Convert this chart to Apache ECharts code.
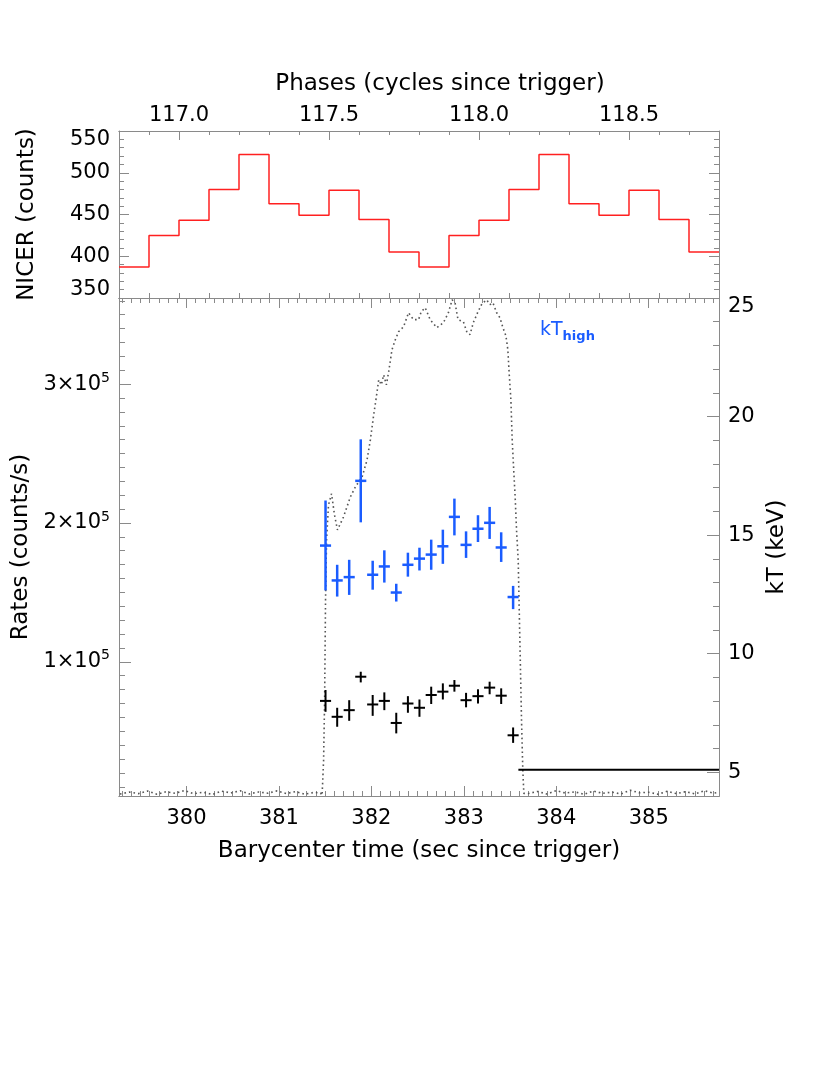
<!DOCTYPE html>
<html><head><meta charset="utf-8">
<script src="https://cdn.jsdelivr.net/npm/echarts@6/dist/echarts.min.js"></script>
<style>html,body{margin:0;padding:0;background:#fff}#c{width:830px;height:1075px}</style>
</head><body><div id="c"></div>
<script>
// ---- data ----
const phaseBins = [116.8,116.9,117.0,117.1,117.2,117.3,117.4,117.5,117.6,117.7,117.8,117.9,118.0,118.1,118.2,118.3,118.4,118.5,118.6,118.7];
const nicerCounts = [387,425,443,480,522,463,449,479,444,405,387,425,443,480,522,463,449,479,444,405];
const phaseTicks = [117.0,117.5,118.0,118.5];
const timeTicks = [380,381,382,383,384,385];
const rateTicks = [100000,200000,300000];
const kTTicks = [5,10,15,20,25];

const lcTime = [379.28,379.38,379.48,379.58,379.68,379.78,379.88,379.98,380.08,380.18,380.28,380.38,380.48,380.58,380.68,380.78,380.88,380.98,381.08,381.18,381.28,381.38,381.45,
381.467,381.483,381.494,381.504,381.515,381.536,381.569,381.601,381.633,381.698,381.773,381.827,381.900,381.953,381.989,382.025,382.054,382.079,382.108,382.133,382.162,382.187,382.223,382.259,382.294,382.348,382.402,382.456,382.510,382.539,382.582,382.636,382.708,382.779,382.833,382.873,382.905,382.937,382.995,383.035,383.067,383.102,383.153,383.196,383.247,383.282,383.315,383.355,383.390,383.423,383.455,383.476,383.490,383.509,383.523,383.541,383.555,383.570,383.588,383.606,383.624,383.638,383.649,
383.70,383.80,383.90,384.00,384.10,384.20,384.30,384.40,384.50,384.60,384.70,384.80,384.90,385.00,385.10,385.20,385.30,385.40,385.50,385.60,385.70,385.76];
const lcRate = [4800,6200,5100,7000,4600,6500,5300,7400,5000,6100,4500,6900,5600,7200,4900,6300,5400,7100,5200,6600,4700,6000,5500,
3900,29100,72300,144500,187700,213000,221000,205800,195000,204300,218800,226000,233200,245400,259900,277900,290900,303100,299500,306700,299500,308900,324800,332000,337700,341300,351400,346400,346400,352100,355000,346400,340600,344200,351400,360700,358500,346400,344900,337000,335600,344200,352100,357900,360700,357200,358500,351400,347800,340600,334800,324800,308200,288700,259900,236100,218800,195000,173300,115600,57900,21900,5300,
5200,6700,4800,7300,5500,6400,4600,7000,5300,6200,4900,7500,5700,6100,4700,6800,5100,6500,4900,7200,5400,6000];

const specTime = [381.504,381.630,381.760,381.885,382.014,382.140,382.269,382.395,382.520,382.647,382.773,382.898,383.024,383.153,383.279,383.404,383.533];
const kTHigh   = [14.56,13.09,13.23,17.29,13.33,13.68,12.58,13.75,14.01,14.18,14.53,15.77,14.59,15.27,15.52,14.48,12.39];
const kTHighLo = [12.67,12.41,12.48,15.54,12.70,13.00,12.20,13.25,13.51,13.54,13.79,14.99,14.04,14.71,14.84,13.87,11.88];
const kTHighHi = [16.46,13.75,13.96,19.04,13.92,14.36,12.95,14.26,14.47,14.81,15.23,16.54,15.16,15.84,16.19,15.12,12.86];
const kTLow    = [8.01,7.34,7.62,9.03,7.86,8.01,7.08,7.90,7.72,8.26,8.40,8.65,8.04,8.21,8.57,8.23,6.56];
const kTLowLo  = [7.55,6.92,7.17,8.79,7.38,7.62,6.64,7.51,7.34,7.88,8.07,8.40,7.74,7.90,8.29,7.88,6.24];
const kTLowHi  = [8.47,7.72,8.04,9.24,8.26,8.37,7.51,8.21,8.07,8.61,8.75,8.89,8.35,8.50,8.82,8.54,6.89];
const floorTime = [383.59,385.76];
const floorKT = [5.11,5.11];

// ---- layout / style ----
const F = 'DejaVu Sans';
const AX = '#8a8a8a';
const TMIN = 379.27, TMAX = 385.76, PMIN = 116.8, PMAX = 118.8;
const RMIN = 3400, RMAX = 362000, KMIN = 4, KMAX = 25;
const HW = 0.06;

function range(a,b,s){const o=[];for(let i=0;a+i*s<=b+1e-9;i++)o.push(+(a+i*s).toFixed(4));return o;}
const timeMinor = range(379.3,385.7,0.1);
const phaseMinor = range(116.9,118.7,0.1);
const rateMinor = range(10000,360000,10000);
const kTMinor = range(5,24,1);

const lineAx = {show:true,lineStyle:{color:AX,width:1}};
const lab = {color:'#000',fontFamily:F,fontSize:21};
const edgeRich = {
  n:{fontSize:21,fontFamily:F,color:'#000'},
  d:{fontSize:21,fontFamily:F,color:'#000',padding:[18,0,0,0]},
  u:{fontSize:21,fontFamily:F,color:'#000',padding:[0,0,16,0]}
};
function xa(grid,pos,min,max,ticks,len,labels,extra){
  return Object.assign({gridIndex:grid,type:'value',position:pos,min:min,max:max,
    axisLine:lineAx,splitLine:{show:false},
    axisTick:{show:true,inside:true,length:len,customValues:ticks,lineStyle:{color:AX}},
    axisLabel:labels?Object.assign({customValues:labels,margin:9},lab):{show:false}},extra||{});
}
const ya = xa;

const xAxis = [
  xa(0,'top',PMIN,PMAX,phaseTicks,9,phaseTicks,{axisLabel:Object.assign({customValues:phaseTicks,margin:5,formatter:v=>v.toFixed(1)},lab)}),
  xa(0,'top',PMIN,PMAX,phaseMinor,4,null),
  xa(0,'bottom',PMIN,PMAX,phaseMinor,5,null),
  xa(1,'bottom',TMIN,TMAX,timeTicks,10,timeTicks,{
     axisLabel:Object.assign({customValues:timeTicks,margin:12},lab),
     name:'Barycenter time (sec since trigger)',nameLocation:'middle',nameGap:44,
     nameTextStyle:{color:'#000',fontFamily:F,fontSize:23}}),
  xa(1,'bottom',TMIN,TMAX,timeMinor,5,null),
  xa(1,'top',TMIN,TMAX,timeTicks,10,null),
  xa(1,'top',TMIN,TMAX,timeMinor,5,null)
];

const yAxis = [
  {gridIndex:0,type:'value',position:'left',min:350,max:550,interval:50,axisLine:lineAx,splitLine:{show:false},
   axisTick:{inside:true,length:10,lineStyle:{color:AX}},minorTick:{show:true,splitNumber:5,length:5,lineStyle:{color:AX}},
   axisLabel:{margin:9,formatter:v=>v===550?'{d|550}':(v===350?'{u|350}':'{n|'+v+'}'),rich:edgeRich},
   name:'NICER (counts)',nameLocation:'middle',nameGap:80,nameRotate:90,nameTextStyle:{color:'#000',fontFamily:F,fontSize:23}},
  {gridIndex:0,type:'value',position:'right',min:350,max:550,interval:50,axisLine:lineAx,splitLine:{show:false},
   axisTick:{inside:true,length:10,lineStyle:{color:AX}},minorTick:{show:true,splitNumber:5,length:5,lineStyle:{color:AX}},
   axisLabel:{show:false}},
  ya(1,'left',RMIN,RMAX,rateTicks,12,rateTicks,{
     axisLabel:{customValues:rateTicks,margin:9,color:'#000',fontFamily:F,
       formatter:v=>'{a|'+Math.round(v/1e5)+'×10}{s|5}',
       rich:{a:{fontSize:21,fontFamily:F,color:'#000'},s:{fontSize:14,fontFamily:F,color:'#000',verticalAlign:'top',padding:[0,0,12,0]}}},
     name:'Rates (counts/s)',nameLocation:'middle',nameGap:86,nameRotate:90,nameTextStyle:{color:'#000',fontFamily:F,fontSize:23}}),
  ya(1,'left',RMIN,RMAX,rateMinor,6,null),
  ya(1,'right',KMIN,KMAX,kTTicks,12,kTTicks,{
     axisLabel:{customValues:kTTicks,margin:9,formatter:v=>v===25?'{d|25}':'{n|'+v+'}',rich:edgeRich},
     name:'kT (keV)',nameLocation:'middle',nameGap:40,nameRotate:90,
     nameTextStyle:{color:'#000',fontFamily:F,fontSize:23}}),
  ya(1,'right',KMIN,KMAX,kTMinor,6,null)
];

function crossSeries(vals,lo,hi,color,w){
  return {type:'custom',xAxisIndex:3,yAxisIndex:4,z:5,clip:false,
    data:specTime.map((t,i)=>[t,vals[i],lo[i],hi[i]]),
    encode:{x:0,y:1},
    renderItem:function(params,api){
      const t=api.value(0),v=api.value(1),l=api.value(2),h=api.value(3);
      const a=api.coord([t-HW,v]),b=api.coord([t+HW,v]),c=api.coord([t,l]),d=api.coord([t,h]);
      return {type:'group',children:[
        {type:'line',shape:{x1:a[0],y1:a[1],x2:b[0],y2:b[1]},style:{stroke:color,lineWidth:w}},
        {type:'line',shape:{x1:c[0],y1:c[1],x2:d[0],y2:d[1]},style:{stroke:color,lineWidth:w}}
      ]};
    }};
}

const stepData = phaseBins.map((p,i)=>[p,nicerCounts[i]]);
stepData.push([PMAX,nicerCounts[nicerCounts.length-1]]);

const option = {
  animation:false,
  backgroundColor:'#fff',
  grid:[
    {left:119,right:111,top:131,height:167},
    {left:119,right:111,top:298,height:498}
  ],
  xAxis:xAxis,
  yAxis:yAxis,
  series:[
    {type:'line',xAxisIndex:0,yAxisIndex:0,step:'end',data:stepData,showSymbol:false,symbol:'none',
     lineStyle:{color:'#ff2020',width:1.5}},
    {type:'line',xAxisIndex:3,yAxisIndex:2,data:lcTime.map((t,i)=>[t,lcRate[i]]),showSymbol:false,symbol:'none',
     lineStyle:{color:'#555',width:1.6,type:[1.6,3]}},
    {type:'line',xAxisIndex:3,yAxisIndex:4,data:floorTime.map((t,i)=>[t,floorKT[i]]),showSymbol:false,symbol:'none',
     lineStyle:{color:'#000',width:2}},
    crossSeries(kTHigh,kTHighLo,kTHighHi,'#1a5cff',2.5),
    crossSeries(kTLow,kTLowLo,kTLowHi,'#000',2)
  ],
  graphic:[
    {type:'text',x:440,y:84,style:{text:'Phases (cycles since trigger)',font:'23px "DejaVu Sans"',fill:'#000',textAlign:'center',textVerticalAlign:'middle'}},
    {type:'text',x:540,y:318,style:{text:'{k|kT}{s|high}',fill:'#1a5cff',
      rich:{k:{fontSize:19,fontFamily:F,color:'#1a5cff'},s:{fontSize:13,fontWeight:'bold',fontFamily:F,color:'#1a5cff',padding:[12,0,0,0]}}}}
  ]
};
const chart = echarts.init(document.getElementById('c'),null,{renderer:'canvas'});
chart.setOption(option);
</script></body></html>
